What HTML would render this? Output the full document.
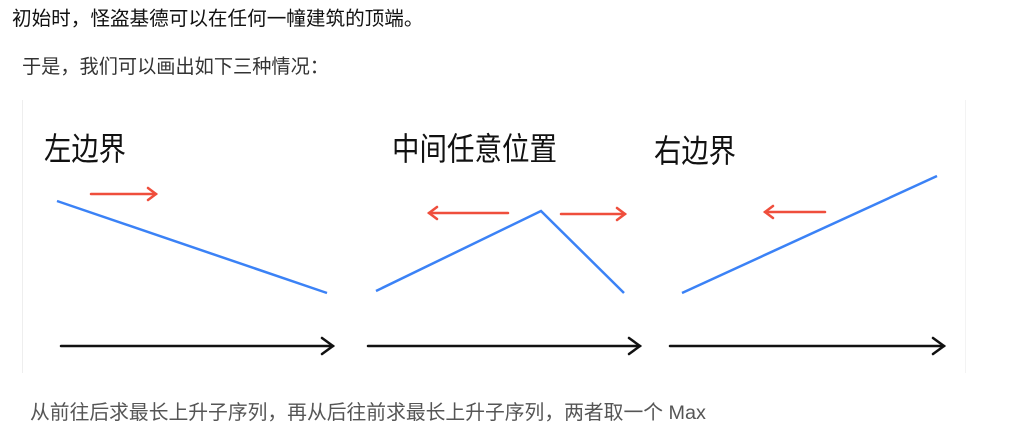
<!DOCTYPE html>
<html><head><meta charset="utf-8"><style>
body{margin:0;width:1032px;height:440px;background:#fff;font-family:"Liberation Sans","Noto Sans CJK SC",sans-serif;position:relative;overflow:hidden}
.t{position:absolute;white-space:nowrap;line-height:1}
</style></head><body>
<div class="t" style="left:12px;top:10px;font-size:19.6px;color:#111">初始时，怪盗基德可以在任何一幢建筑的顶端。</div>
<div class="t" style="left:22px;top:58px;font-size:19.2px;color:#333">于是，我们可以画出如下三种情况：</div>
<div style="position:absolute;left:22px;top:100px;width:942px;height:273px;border-left:1px solid #eee;border-right:1px solid #f3f3f3"></div>
<svg style="position:absolute;left:0;top:0" width="1032" height="440">
<g font-family="Noto Sans CJK SC,sans-serif" font-size="32" fill="#111" font-weight="400">
<text x="44" y="160" textLength="82" lengthAdjust="spacingAndGlyphs">左边界</text>
<text x="392" y="160" textLength="165" lengthAdjust="spacingAndGlyphs">中间任意位置</text>
<text x="654" y="162" textLength="82" lengthAdjust="spacingAndGlyphs">右边界</text>
</g>
<g stroke="#3b82f6" stroke-width="2.5" fill="none">
<polyline points="57,201 327,293"/>
<polyline points="376,291 541,211 624,293"/>
<polyline points="682,293 937,176"/>
</g>
<g stroke="#ef4e3c" stroke-width="2.5" fill="none" stroke-linecap="round">
<line x1="91" y1="194" x2="156" y2="194"/><polyline points="148,188 156,194 148,200"/>
<line x1="508" y1="213" x2="429" y2="213"/><polyline points="437,207 429,213 437,219"/>
<line x1="561" y1="214" x2="625" y2="214"/><polyline points="617,208 625,214 617,220"/>
<line x1="825" y1="212" x2="765" y2="212"/><polyline points="773,206 765,212 773,218"/>
</g>
<g stroke="#111" stroke-width="2.5" fill="none" stroke-linecap="round">
<line x1="61" y1="346" x2="333" y2="346"/><polyline points="322,338 333,346 322,354"/>
<line x1="368" y1="346" x2="640" y2="346"/><polyline points="629,338 640,346 629,354"/>
<line x1="670" y1="346" x2="944" y2="346"/><polyline points="933,338 944,346 933,354"/>
</g>
</svg>
<div class="t" style="left:30px;top:404px;font-size:19.8px;color:#555">从前往后求最长上升子序列，再从后往前求最长上升子序列，两者取一个 Max</div>
</body></html>
